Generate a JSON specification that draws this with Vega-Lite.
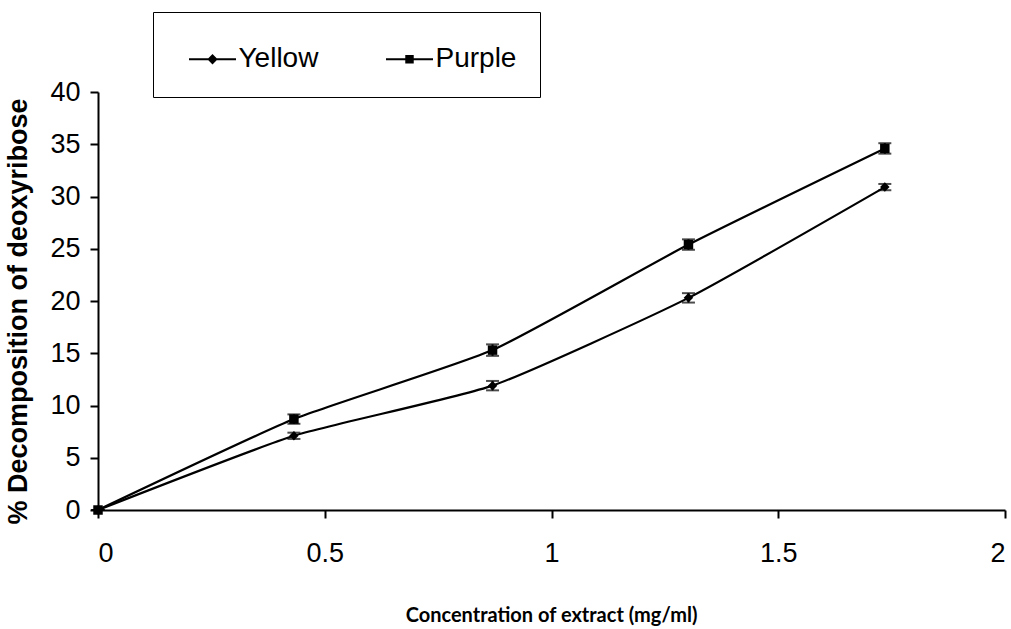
{
  "$schema": "https://vega.github.io/schema/vega-lite/v6.json",
  "width": 907,
  "height": 418,
  "autosize": "none",
  "padding": {"left": 98, "top": 92, "right": 6, "bottom": 119},
  "background": "white",
  "config": {
    "view": {"stroke": null},
    "axis": {
      "grid": false,
      "domainColor": "black",
      "domainWidth": 2,
      "tickColor": "black",
      "tickWidth": 2,
      "tickSize": 8,
      "labelColor": "black",
      "labelFont": "Liberation Sans, Arial",
      "labelFontSize": 27,
      "titleColor": "black"
    }
  },
  "data": {
    "values": [
      {"series": "Yellow", "conc": 0, "value": 0, "err": 0},
      {"series": "Yellow", "conc": 0.432, "value": 7.1, "err": 0.3},
      {"series": "Yellow", "conc": 0.87, "value": 11.9, "err": 0.45},
      {"series": "Yellow", "conc": 1.302, "value": 20.3, "err": 0.45},
      {"series": "Yellow", "conc": 1.735, "value": 30.9, "err": 0.3},
      {"series": "Purple", "conc": 0, "value": 0, "err": 0},
      {"series": "Purple", "conc": 0.432, "value": 8.7, "err": 0.45},
      {"series": "Purple", "conc": 0.87, "value": 15.3, "err": 0.55},
      {"series": "Purple", "conc": 1.302, "value": 25.4, "err": 0.5},
      {"series": "Purple", "conc": 1.735, "value": 34.6, "err": 0.5}
    ]
  },
  "encoding": {
    "x": {
      "field": "conc", "type": "quantitative",
      "scale": {"domain": [0, 2], "nice": false},
      "axis": {
        "values": [0, 0.5, 1, 1.5, 2],
        "format": "~g",
        "labelPadding": 22,
        "title": "Concentration of extract (mg/ml)",
        "titleFont": "Lato",
        "titleFontWeight": "bold",
        "titleFontSize": 20,
        "titleX": 453,
        "titleY": 105,
        "titleBaseline": "middle",
        "titleAlign": "center"
      }
    },
    "y": {
      "field": "value", "type": "quantitative",
      "scale": {"domain": [0, 40], "nice": false},
      "axis": {
        "values": [0, 5, 10, 15, 20, 25, 30, 35, 40],
        "labelPadding": 10,
        "title": "% Decomposition of deoxyribose",
        "titleFont": "Liberation Sans, Arial",
        "titleFontWeight": "bold",
        "titleFontSize": 27,
        "titleAngle": -90,
        "titleX": -80,
        "titleY": 219,
        "titleBaseline": "middle",
        "titleAlign": "center"
      }
    }
  },
  "layer": [
    {
      "mark": {"type": "line", "color": "black", "strokeWidth": 2.2, "interpolate": "cardinal", "tension": 0.5},
      "encoding": {
        "detail": {"field": "series"}
      }
    },
    {
      "mark": {"type": "errorbar", "color": "black", "thickness": 2, "ticks": {"size": 13, "thickness": 2, "color": "black"}},
      "encoding": {
        "yError": {"field": "err"},
        "detail": {"field": "series"}
      }
    },
    {
      "mark": {"type": "point", "filled": true, "color": "black", "opacity": 1, "size": 90},
      "encoding": {
        "shape": {
          "field": "series", "type": "nominal",
          "scale": {"domain": ["Yellow", "Purple"], "range": ["diamond", "square"]},
          "legend": null
        }
      }
    },
    {
      "mark": {"type": "point", "filled": true, "color": "black", "opacity": 0, "size": 1},
      "encoding": {
        "shape": {
          "field": "series", "type": "nominal",
          "scale": {"domain": ["Yellow", "Purple"], "range": ["M-1,-0.045H1V0.045H-1ZM0,-0.22L0.22,0L0,0.22L-0.22,0Z", "M-1,-0.045H1V0.045H-1ZM-0.18,-0.18H0.18V0.18H-0.18Z"]},
          "legend": {
            "title": null,
            "orient": "none",
            "legendX": 55,
            "legendY": -80,
            "direction": "horizontal",
            "padding": 23.5,
            "strokeColor": "black",
            "fillColor": "white",
            "symbolSize": 2209,
            "symbolOffset": 12.5,
            "symbolOpacity": 1,
            "symbolFillColor": "black",
            "symbolStrokeColor": "black",
            "symbolStrokeWidth": 0,
            "labelOffset": 2.5,
            "columnPadding": 55,
            "labelFont": "Liberation Sans, Arial",
            "labelFontSize": 28,
            "labelColor": "black",
            "encode": {
              "legend": {"update": {"strokeWidth": {"value": 2}}}
            }
          }
        }
      }
    }
  ],
  "resolve": {"scale": {"shape": "independent"}}
}
